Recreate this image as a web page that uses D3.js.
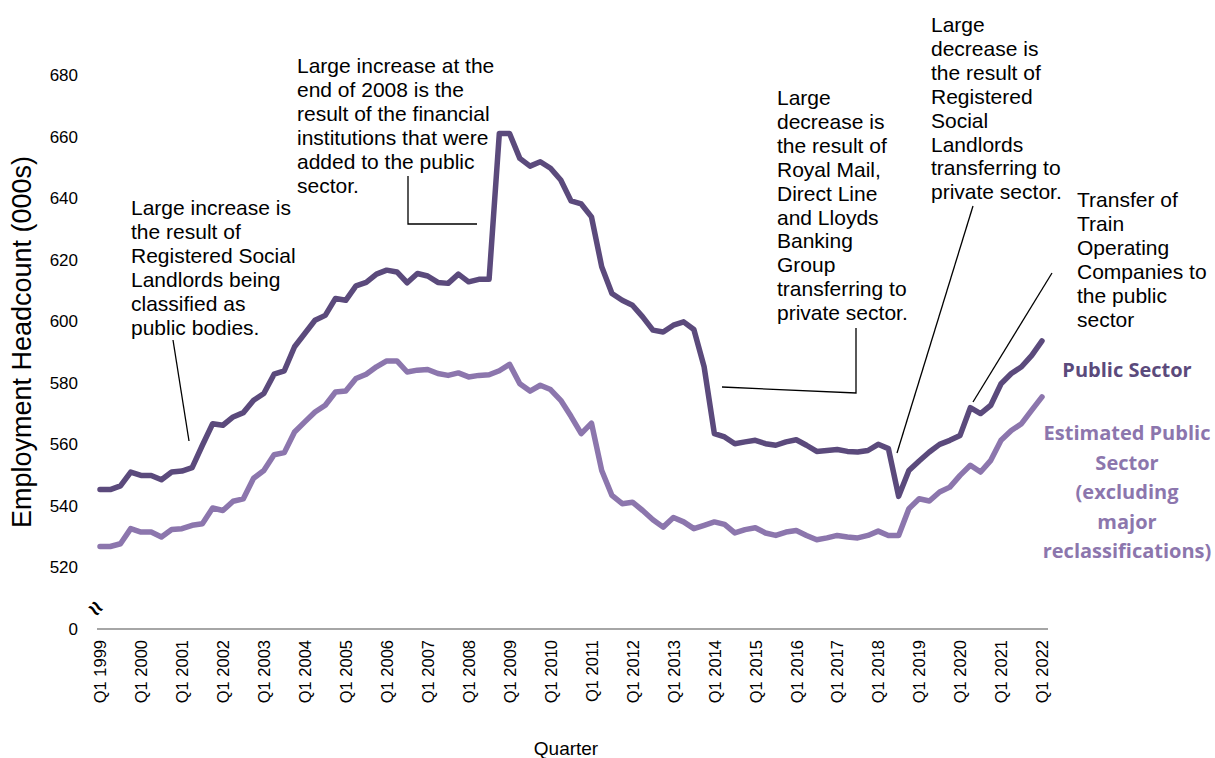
<!DOCTYPE html>
<html>
<head>
<meta charset="utf-8">
<script src="https://cdn.jsdelivr.net/npm/d3@7"></script>
<style>
  html, body { margin: 0; padding: 0; background: #fff; }
  svg { display: block; }
  text { font-family: "Liberation Sans", Arial, sans-serif; }
</style>
</head>
<body>
<svg id="chart" width="1215" height="758"></svg>
<script>
// ---- Data (000s), quarterly Q1 1999 .. Q1 2022 ----
const startYear = 1999;
const publicSector = [
  545.3, 545.3, 546.5, 551.0, 549.9, 549.9, 548.5, 551.0,
  551.3, 552.4, 559.7, 566.7, 566.2, 568.9, 570.3, 574.3,
  576.5, 582.8, 583.9, 591.7, 596.0, 600.3, 601.9, 607.4,
  606.8, 611.5, 612.6, 615.3, 616.6, 616.0, 612.5, 615.5,
  614.7, 612.6, 612.3, 615.3, 612.8, 613.6, 613.6, 661.0,
  661.0, 652.9, 650.4, 651.8, 649.7, 645.9, 639.1, 638.1,
  633.9, 617.7, 609.0, 606.8, 605.2, 601.4, 597.1, 596.5,
  598.7, 599.8, 597.3, 585.2, 563.5, 562.4, 560.2, 560.8,
  561.3, 560.2, 559.7, 560.8, 561.5, 559.7, 557.7, 558.0,
  558.3, 557.7, 557.5, 558.0, 560.0, 558.6, 543.1, 551.5,
  554.6, 557.5, 560.0, 561.3, 562.9, 571.9, 570.0, 572.7,
  579.7, 583.0, 585.2, 588.9, 593.6
];
const estimatedPublic = [
  526.8, 526.8, 527.7, 532.6, 531.5, 531.5, 529.9, 532.3,
  532.6, 533.7, 534.2, 539.3, 538.5, 541.5, 542.3, 549.0,
  551.5, 556.6, 557.3, 564.0, 567.3, 570.5, 572.7, 577.0,
  577.3, 581.4, 582.8, 585.2, 587.1, 587.1, 583.5, 584.1,
  584.3, 583.0, 582.4, 583.2, 581.9, 582.4, 582.6, 583.9,
  586.0, 579.7, 577.3, 579.2, 577.8, 574.3, 569.1, 563.5,
  566.9, 551.5, 543.4, 540.7, 541.2, 538.5, 535.5, 533.1,
  536.2, 534.8, 532.6, 533.7, 534.8, 534.0, 531.2, 532.3,
  532.9, 531.2, 530.4, 531.5, 532.0, 530.4, 529.0, 529.6,
  530.4, 529.9, 529.6, 530.4, 531.8, 530.4, 530.4, 539.1,
  542.3, 541.6, 544.5, 546.1, 549.9, 553.2, 551.0, 554.8,
  561.3, 564.5, 566.7, 571.1, 575.4
];
const quarterLabels = publicSector.map((d, i) => "Q" + (i % 4 + 1) + " " + (startYear + Math.floor(i / 4)));
const xTickIndex = d3.range(0, publicSector.length, 4);
const yTickValues = [500, 520, 540, 560, 580, 600, 620, 640, 660, 680];
const yTickText = ["0", "520", "540", "560", "580", "600", "620", "640", "660", "680"];
const seriesNames = ["Public Sector", "Estimated Public Sector (excluding major reclassifications)"];
const annotations = [
  { lines: ["Large increase is", "the result of", "Registered Social", "Landlords being", "classified as", "public bodies."] },
  { lines: ["Large increase at the", "end of 2008 is the", "result of the financial", "institutions that were", "added to the public", "sector."] },
  { lines: ["Large", "decrease is", "the result of", "Royal Mail,", "Direct Line", "and Lloyds", "Banking", "Group", "transferring to", "private sector."] },
  { lines: ["Large", "decrease is", "the result of", "Registered", "Social", "Landlords", "transferring to", "private sector."] },
  { lines: ["Transfer of", "Train", "Operating", "Companies to", "the public", "sector"] }
];

// ---- Layout ----
const darkColor = "#5b4a7c";
const lightColor = "#8c76ad";
const svg = d3.select("#chart");

const x = d3.scaleLinear().domain([0, publicSector.length - 1]).range([100, 1042]);
const y = d3.scaleLinear().domain([500, 680]).range([629, 75]);

// Y axis (labels only)
const yAxis = d3.axisLeft(y)
  .tickValues(yTickValues)
  .tickFormat((d, i) => yTickText[i])
  .tickSize(0)
  .tickPadding(0);
const gy = svg.append("g").attr("transform", "translate(78,0)").call(yAxis);
gy.select(".domain").remove();
gy.attr("font-family", null).attr("font-size", null);
gy.selectAll("text")
  .style("font-family", '"Liberation Sans", Arial, sans-serif')
  .style("font-size", "17px")
  .attr("fill", "#000");

// X axis
const xAxis = d3.axisBottom(x)
  .tickValues(xTickIndex)
  .tickFormat(i => quarterLabels[i])
  .tickSize(0);
const gx = svg.append("g").attr("transform", "translate(0,629)").call(xAxis);
gx.select(".domain").remove();
gx.attr("font-family", null).attr("font-size", null);
gx.selectAll("text")
  .style("font-family", '"Liberation Sans", Arial, sans-serif')
  .style("font-size", "16.5px")
  .attr("fill", "#000")
  .attr("transform", "rotate(-90)")
  .attr("text-anchor", "end")
  .attr("x", -11)
  .attr("y", 0)
  .attr("dy", "0.35em");

svg.append("line")
  .attr("x1", x(0) - 3).attr("x2", x(publicSector.length - 1) + 6)
  .attr("y1", 629).attr("y2", 629)
  .attr("stroke", "#a6a6a6").attr("stroke-width", 2);

// axis break symbol
svg.append("text")
  .attr("transform", "translate(96,608) rotate(40)")
  .attr("text-anchor", "middle")
  .attr("dy", "0.35em")
  .style("font-size", "24px")
  .style("font-weight", "bold")
  .text("≈");

// Axis titles
svg.append("text")
  .attr("transform", "translate(31,342) rotate(-90)")
  .attr("text-anchor", "middle")
  .style("font-size", "27px")
  .text("Employment Headcount (000s)");
svg.append("text")
  .attr("x", 566).attr("y", 755)
  .attr("text-anchor", "middle")
  .style("font-size", "19px")
  .text("Quarter");

// Lines
const line = d3.line().x((d, i) => x(i)).y(d => y(d)).curve(d3.curveLinear);
svg.append("path").datum(estimatedPublic)
  .attr("fill", "none").attr("stroke", lightColor).attr("stroke-width", 5.5)
  .attr("stroke-linejoin", "round").attr("stroke-linecap", "round")
  .attr("d", line);
svg.append("path").datum(publicSector)
  .attr("fill", "none").attr("stroke", darkColor).attr("stroke-width", 5.5)
  .attr("stroke-linejoin", "round").attr("stroke-linecap", "round")
  .attr("d", line);

// Legend labels
svg.append("text")
  .attr("x", 1127).attr("y", 377)
  .attr("text-anchor", "middle")
  .style("font-family", '"Open Sans", "Noto Sans", sans-serif')
  .style("font-weight", "bold").style("font-size", "20px")
  .attr("fill", darkColor)
  .text(seriesNames[0]);
const estLines = ["Estimated Public", "Sector", "(excluding", "major", "reclassifications)"];
const est = svg.append("text")
  .attr("text-anchor", "middle")
  .style("font-family", '"Open Sans", "Noto Sans", sans-serif')
  .style("font-weight", "bold").style("font-size", "20px")
  .attr("fill", lightColor);
estLines.forEach((t, i) => est.append("tspan").attr("x", 1127).attr("y", 440 + i * 29.5).text(t));

// Annotations
const annoPos = [
  { x: 131, y: 215 },
  { x: 297, y: 73 },
  { x: 777, y: 105 },
  { x: 931, y: 32 },
  { x: 1077, y: 207 }
];
annotations.forEach((a, k) => {
  const t = svg.append("text").style("font-size", "21px").attr("fill", "#000");
  a.lines.forEach((s, i) => t.append("tspan").attr("x", annoPos[k].x).attr("y", annoPos[k].y + i * 23.9).text(s));
});

// Leader lines
const leaders = [
  [[173, 340], [189, 441]],
  [[408, 176], [408, 224], [477, 224]],
  [[856, 328], [856, 393], [722, 387]],
  [[973, 206], [897, 453]],
  [[1052, 273], [973, 402]]
];
leaders.forEach(p => {
  svg.append("path")
    .attr("d", d3.line()(p))
    .attr("fill", "none").attr("stroke", "#000").attr("stroke-width", 1.3);
});
</script>
</body>
</html>
